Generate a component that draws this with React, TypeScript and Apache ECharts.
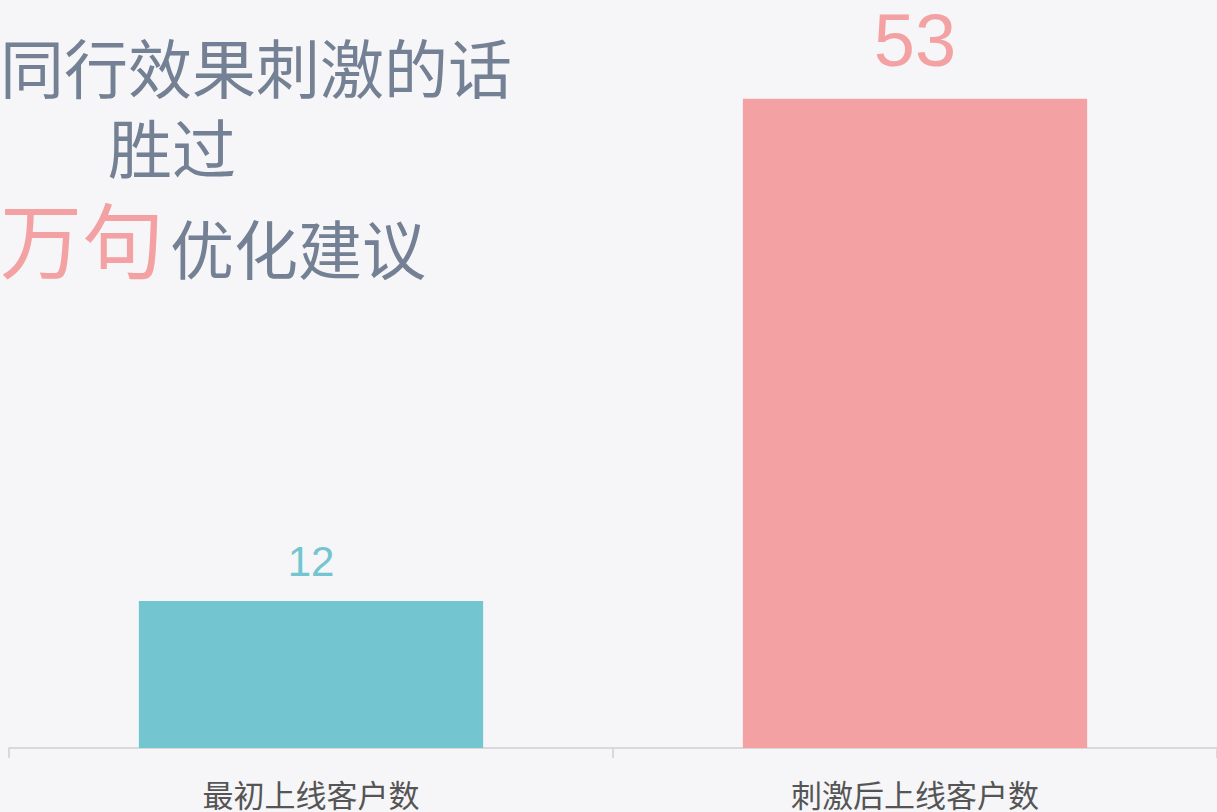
import React, { useEffect, useRef } from "react";
import * as echarts from "echarts";

const categories = ["最初上线客户数", "刺激后上线客户数"];
const values = [12, 53];
const barColors = ["#73C5CF", "#F3A1A3"];
const labelSizes = [42, 74];
const labelDistances = [19, 21];

const titleLine1 = "同行效果刺激的话";
const titleLine2 = "胜过";
const titleEmph = "万句";
const titleRest = "优化建议";

const TITLE_GRAY = "#748093";
const CJK = '"Noto Sans CJK SC", "Noto Sans", sans-serif';
const NUM = '"Liberation Sans", Arial, sans-serif';

export default function App() {
  const ref = useRef<HTMLDivElement>(null);
  useEffect(() => {
    if (!ref.current) return;
    const chart = echarts.init(ref.current, undefined, { renderer: "svg" });
    chart.setOption({
      animation: false,
      backgroundColor: "#f6f6f8",
      grid: { left: 9, right: -3, top: 13, bottom: 64, containLabel: false },
      xAxis: {
        type: "category",
        data: categories,
        axisLine: { show: true, lineStyle: { color: "#d9d9d9", width: 2 } },
        axisTick: { show: true, length: 10, lineStyle: { color: "#d9d9d9", width: 2 } },
        axisLabel: { fontSize: 31, color: "#555555", fontFamily: CJK, margin: 30 },
      },
      yAxis: {
        type: "value",
        min: 0,
        max: 60,
        show: false,
        splitLine: { show: false },
      },
      series: [
        {
          type: "bar",
          barWidth: "57%",
          data: values.map((v, i) => ({
            value: v,
            itemStyle: { color: barColors[i] },
            label: {
              show: true,
              position: "top",
              distance: labelDistances[i],
              fontSize: labelSizes[i],
              color: barColors[i],
              fontFamily: NUM,
            },
          })),
        },
      ],
      graphic: [
        {
          type: "text",
          x: 0,
          y: 65,
          style: {
            text: titleLine1,
            fontSize: 64,
            fontFamily: CJK,
            fill: TITLE_GRAY,
            align: "left",
            verticalAlign: "middle",
          },
        },
        {
          type: "text",
          x: 108,
          y: 145,
          style: {
            text: titleLine2,
            fontSize: 64,
            fontFamily: CJK,
            fill: TITLE_GRAY,
            align: "left",
            verticalAlign: "middle",
          },
        },
        {
          type: "text",
          x: 0,
          y: 236,
          style: {
            text: titleEmph,
            fontSize: 82,
            fontFamily: CJK,
            fill: "#F3A1A3",
            align: "left",
            verticalAlign: "middle",
          },
        },
        {
          type: "text",
          x: 170,
          y: 246,
          style: {
            text: titleRest,
            fontSize: 64,
            fontFamily: CJK,
            fill: TITLE_GRAY,
            align: "left",
            verticalAlign: "middle",
          },
        },
      ],
    });
    return () => chart.dispose();
  }, []);
  return (
    <div
      ref={ref}
      style={{ position: "absolute", left: 0, top: 0, width: 1217, height: 812 }}
    />
  );
}
